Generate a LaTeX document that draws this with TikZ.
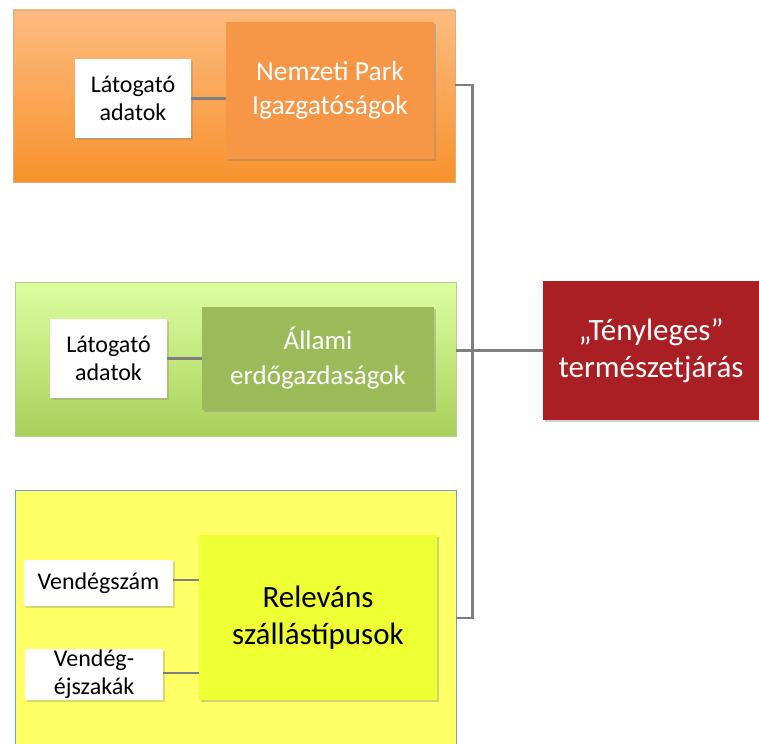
\documentclass[tikz,border=0pt]{standalone}
\usepackage{fontspec}
\setmainfont{Carlito}
\usepackage{xcolor}
\usetikzlibrary{shadows}
\definecolor{orangetop}{HTML}{FDBB80}
\definecolor{orangebot}{HTML}{F8922D}
\definecolor{orangeunit}{HTML}{F79646}
\definecolor{greentop}{HTML}{DDFFA1}
\definecolor{greenbot}{HTML}{A8D05A}
\definecolor{greenunit}{HTML}{9BBB59}
\definecolor{yellowpanel}{HTML}{FFFF66}
\definecolor{yellowunit}{HTML}{EEFF33}
\definecolor{bluerim}{HTML}{6F9BD8}
\definecolor{redgoal}{HTML}{AA1F24}
\definecolor{linkgray}{HTML}{7F7F7F}
\newcommand{\fs}[2]{\fontsize{#1}{#2}\selectfont}

\begin{document}
\begin{tikzpicture}[x=1pt, y=-1pt,
                    every node/.style={inner sep=0pt, align=center},
                    panel/.style={draw=#1!80!black!60, line width=0.6pt},
                    unit/.style={drop shadow={shadow xshift=2pt, shadow yshift=-2pt, opacity=0.35}},
                    datum/.style={fill=white, text=black, font=\fs{24}{28},
                                  drop shadow={shadow xshift=2pt, shadow yshift=-2pt, opacity=0.3}},
                    link/.style={draw=linkgray, line width=2.6pt}]
  \useasboundingbox (0,0) rectangle (759,743);
  % panels
  \node[panel=orangebot, top color=orangetop, bottom color=orangebot,
        minimum width=442, minimum height=172] (orange) at (234,96) {};
  \node[panel=greenbot, top color=greentop, bottom color=greenbot,
        minimum width=441, minimum height=154] (green) at (235.5,359) {};
  \node[draw=bluerim, line width=0.8pt, fill=yellowpanel,
        minimum width=441, minimum height=260] (yellow) at (235.5,620) {};
  % units
  \node[unit, fill=orangeunit, text=white, font=\fs{27.5}{34},
        minimum width=208, minimum height=137] (park) at (330,90.5) {Nemzeti Park\\Igazgatóságok};
  \node[unit, fill=greenunit, text=white, font=\fs{27}{35},
        minimum width=232, minimum height=103] (forest) at (318,358.5) {Állami\\erdőgazdaságok};
  \node[unit, fill=yellowunit, text=black, font=\fs{31}{37},
        minimum width=238, minimum height=165] (lodging) at (318,617.5) {Releváns\\szállástípusok};
  % data
  \node[datum, minimum width=116, minimum height=79] (visit1) at (133,98.5) {Látogató\\adatok};
  \node[datum, minimum width=117, minimum height=79] (visit2) at (108.5,358.5) {Látogató\\adatok};
  \node[datum, minimum width=149, minimum height=46] (guests) at (98.5,583) {Vendégszám};
  \node[datum, minimum width=138, minimum height=51] (nights) at (94,674.5) {Vendég-\\éjszakák};
  % goal
  \node[unit, fill=redgoal, text=white, font=\fs{31}{37},
        minimum width=216, minimum height=139] (hiking) at (651,350.5) {„Tényleges”\\természetjárás};
  % edges
  \draw[link] (visit1.east) -- (visit1.east -| park.west);
  \draw[link] (visit2.east) -- (visit2.east -| forest.west);
  \draw[link] ([yshift=3pt]guests.east) -- ([yshift=3pt]guests.east -| lodging.west);
  \draw[link] ([yshift=1.5pt]nights.east) -- ([yshift=1.5pt]nights.east -| lodging.west);
  \draw[link] ([yshift=11pt]orange.east) -- ++(17,0) |- ([yshift=2pt]yellow.east);
  \draw[link] (hiking.west -| green.east) -- (hiking.west);
\end{tikzpicture}
\end{document}
